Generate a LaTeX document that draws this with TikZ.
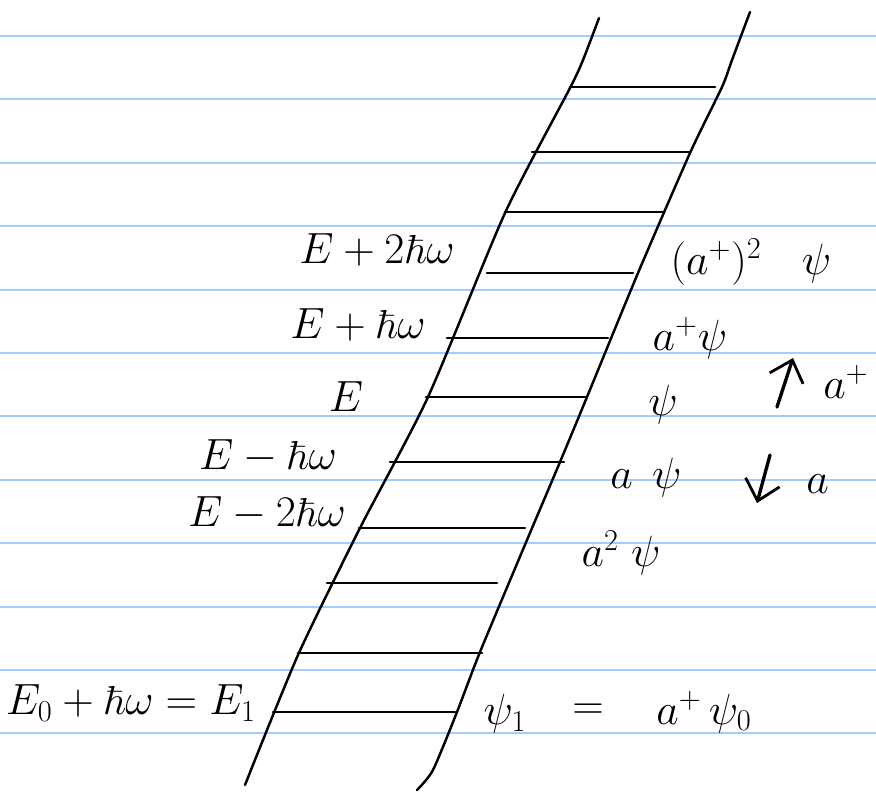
\documentclass[tikz,border=0pt]{standalone}
\usepackage{amsmath, amssymb}
\usepackage{xcolor}
\usepackage{tikz}
\usetikzlibrary{positioning, arrows.meta, calc}

\definecolor{ruleblue}{RGB}{160,204,255}

\begin{document}
\begin{tikzpicture}[
        x=0.02cm, y=-0.02cm,
        >={Straight Barb[length=11pt, width=20pt, line width=1.6pt]},
        rule/.style={draw=ruleblue, line width=1.1pt},
        rail/.style={line width=1.4pt, line cap=round, line join=round},
        rung/.style={line width=1.6pt, line cap=round},
        lbl/.style={font=\fontsize{23}{27}\selectfont, inner sep=0pt},
        opar/.style={->, line width=1.9pt, line cap=round}
    ]
        \useasboundingbox[fill=white] (0,0) rectangle (876,794);

        \foreach \k in {0,...,11}
            \draw[rule] (0,{36+63.4*\k}) -- (876,{36+63.4*\k});

        \draw[rail] plot[smooth, tension=0.4] coordinates {
            (599,18) (583,60) (570,88) (505,213) (428,397)
            (360,528) (298,655) (245,785)};
        \draw[rail] plot[smooth, tension=0.4] coordinates {
            (750,12) (732,60) (722,87) (690,153) (638,273) (587,397)
            (560,462) (527,540) (480,652) (457,712) (433,770) (417,790)};

        \foreach \y/\xl/\xr in {87/570/715, 152/532/690, 212/505/663,
                273/487/633, 338/447/608, 397/426/586, 462/390/564,
                528/359/525, 583/327/497, 653/298/482, 712/273/455}
            \draw[rung] (\xl,\y) -- (\xr,\y);

        \node[lbl] (e2)  at (377,250) {$E+2\hbar\omega$};
        \node[lbl] (e1)  at (358,325) {$E+\hbar\omega$};
        \node[lbl] (e0)  at (346,397) {$E$};
        \node[lbl] (em1) at (268,456) {$E-\hbar\omega$};
        \node[lbl] (em2) at (267,513) {$E-2\hbar\omega$};
        \node[lbl] (eone) at (131,703) {$E_0+\hbar\omega=E_1$};

        \node[lbl] (p2)  at (751,262) {$(a^+)^2\quad\psi$};
        \node[lbl] (p1)  at (690,338) {$a^+\psi$};
        \node[lbl] (p0)  at (663,405) {$\psi$};
        \node[lbl] (pm1) at (646,478) {$a\;\,\psi$};
        \node[lbl] (pm2) at (621,553) {$a^2\;\psi$};

        \node[lbl] (psione) at (505,714) {$\psi_1$};
        \node[lbl] (eq)     at (588,712) {$=$};
        \node[lbl] (rhs)    at (704,712) {$a^+\,\psi_0$};

        \coordinate (upS) at (777,407);
        \coordinate (upE) at (793,358);
        \coordinate (dnS) at (770,455);
        \coordinate (dnE) at (757,503);
        \draw[opar] (upS) -- (upE);
        \draw[opar] (dnS) -- (dnE);
        \node[lbl, anchor=west] (raise) at (823,382) {$a^+$};
        \node[lbl, anchor=west] (lower) at (806,484) {$a$};
    \end{tikzpicture}
\end{document}
